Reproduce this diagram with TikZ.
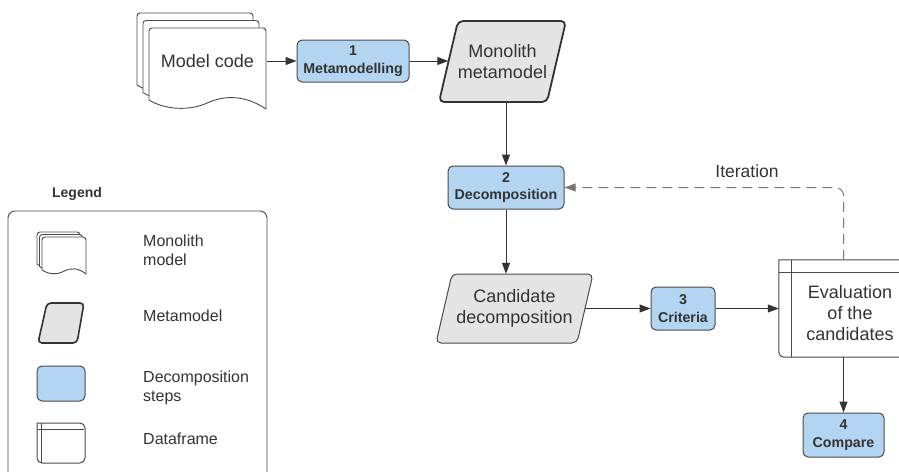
\documentclass[tikz,border=0pt]{standalone}
\usepackage{fontspec}
\setmainfont{Liberation Sans}
\usetikzlibrary{arrows.meta}

\definecolor{ink}{HTML}{333333}
\definecolor{edge}{HTML}{4A4A4A}
\definecolor{stepblue}{HTML}{B3D5F1}
\definecolor{metagrey}{HTML}{E4E4E4}
\definecolor{dashgrey}{HTML}{777777}

% A document sheet with a wavy bottom edge: top-left x, y, width, height
\newcommand\docsheet[4]{%
  \begin{scope}[shift={(#1,#2)},xscale=#3,yscale=#4]
    \filldraw[docpage] (0,0.889) [rounded corners=3pt] -- (0,0) -- (1,0) [sharp corners] -- (1,1)
      .. controls (0.82,0.827) and (0.65,0.827) .. (0.496,0.926)
      .. controls (0.35,1.025) and (0.137,1.012) .. (0,0.889) -- cycle;
  \end{scope}}

\begin{document}
\begin{tikzpicture}[x=1pt,y=-1pt,
  docpage/.style={draw=edge,line width=0.9pt,fill=white},
  stepbox/.style={draw=edge,line width=1pt,fill=stepblue,rounded corners=5pt,
    font=\bfseries\fontsize{14.2}{17.5}\selectfont,align=center,inner sep=0pt,text=ink},
  bigtext/.style={font=\fontsize{18}{21}\selectfont,align=center,text=ink,inner sep=0pt},
  legtext/.style={font=\fontsize{16}{19}\selectfont,align=left,text=ink,anchor=west,inner sep=0pt},
  metaframe/.style={draw=ink,line width=1.8pt,fill=metagrey,rounded corners=5pt},
  candframe/.style={draw=edge,line width=1pt,fill=metagrey,rounded corners=5pt},
  tableframe/.style={draw=edge,line width=1pt,fill=white},
  arr/.style={draw=ink,line width=1pt,-{Triangle[length=11pt,width=8pt]}},
  loopback/.style={draw=dashgrey,line width=1pt,dash pattern=on 10pt off 6pt,rounded corners=8pt,
    -{Triangle[length=11pt,width=8pt]}}]
\useasboundingbox (0,0) rectangle (899,471);
\begin{scope}
\clip (0,0) rectangle (899,471);

% ---------- source model: stacked code sheets ----------
\docsheet{137}{13}{116}{81}
\docsheet{143}{20.5}{116}{81}
\docsheet{149}{28}{117}{81}
\node[bigtext,minimum width=118pt,minimum height=70pt] (mc) at (207.5,61) {Model code};

% ---------- step 1 ----------
\node[stepbox,minimum width=112pt,minimum height=42pt] (b1) at (353,61) {1\\Metamodelling};

% ---------- monolith metamodel ----------
\draw[metaframe] (458,21) -- (566,21) -- (547,102) -- (439,102) -- cycle;
\node[bigtext,minimum width=108pt,minimum height=81pt] (mm) at (502.5,61.5) {Monolith\\metamodel};

% ---------- step 2 ----------
\node[stepbox,minimum width=116pt,minimum height=43pt] (b2) at (506,187.5) {2\\Decomposition};

% ---------- candidate decomposition ----------
\draw[candframe] (452,274) -- (593,274) -- (577,343) -- (436,343) -- cycle;
\node[bigtext,minimum width=141pt,minimum height=69pt] (cd) at (514.5,308.5) {Candidate\\decomposition};

% ---------- step 3 ----------
\node[stepbox,minimum width=64pt,minimum height=43pt] (b3) at (683,308.5) {3\\Criteria};

% ---------- evaluation dataframe ----------
\node[minimum width=142pt,minimum height=97pt,inner sep=0pt] (ev) at (850,308.5) {};
\draw[tableframe] (ev.north east) -- (ev.north west) [rounded corners=5pt] -- (ev.south west) -- (ev.south east);
\draw[draw=edge,line width=1pt] ([xshift=13pt]ev.north west) -- ([xshift=13pt]ev.south west);
\draw[draw=edge,line width=1pt] ([yshift=-13pt]ev.north west) -- ([yshift=-13pt]ev.north east);
\node[bigtext] (evt) at (850,313) {Evaluation\\of the\\candidates};

% ---------- step 4 ----------
\node[stepbox,minimum width=81pt,minimum height=44pt] (b4) at (843.5,435) {4\\Compare};

% ---------- connectors ----------
\draw[arr] (mc.east) -- (mc.east -| b1.west);
\draw[arr] (b1.east) -- (b1.east -| mm.west);
\draw[arr] (mm.south -| b2.north) -- (b2.north);
\draw[arr] (b2.south) -- (b2.south |- cd.north);
\draw[arr] (cd.east) -- (b3.west);
\draw[arr] (b3.east) -- (b3.east -| ev.west);
\draw[arr] (b4.north |- ev.south) -- (b4.north);
\draw[loopback] (b4.north |- ev.north) |- (b2.east);
\node[font=\fontsize{17.5}{20}\selectfont,text=ink,inner sep=0pt] (it) at (747,171) {Iteration};

% ---------- legend ----------
\node[font=\bfseries\fontsize{14}{17}\selectfont,text=ink,inner sep=0pt] (lg) at (77,194) {Legend};
\draw[draw=edge,line width=0.9pt,rounded corners=7pt] (8,500) -- (8,211) -- (267,211) -- (267,500);

\docsheet{37}{232}{43}{36}
\docsheet{39.5}{234.5}{43}{36}
\docsheet{42}{237}{44}{37}
\node[legtext] (l1) at (143,250.5) {Monolith\\model};

\draw[metaframe,line width=1.6pt,rounded corners=4pt] (47,303) -- (84,303) -- (77,343) -- (38,343) -- cycle;
\node[legtext] (l2) at (143,316) {Metamodel};

\draw[draw=edge,line width=1pt,fill=stepblue,rounded corners=5pt] (37,366) rectangle (85,401);
\node[legtext] (l3) at (143,388) {Decomposition\\steps};

\draw[tableframe] (37,423) [rounded corners=5pt] -- (85,423) -- (85,463) -- (37,463) [sharp corners] -- cycle;
\draw[draw=edge,line width=0.9pt] (41,423) -- (41,463);
\draw[draw=edge,line width=0.9pt] (37,429) -- (84,429);
\node[legtext] (l4) at (143,439) {Dataframe};
\end{scope}
\end{tikzpicture}
\end{document}
